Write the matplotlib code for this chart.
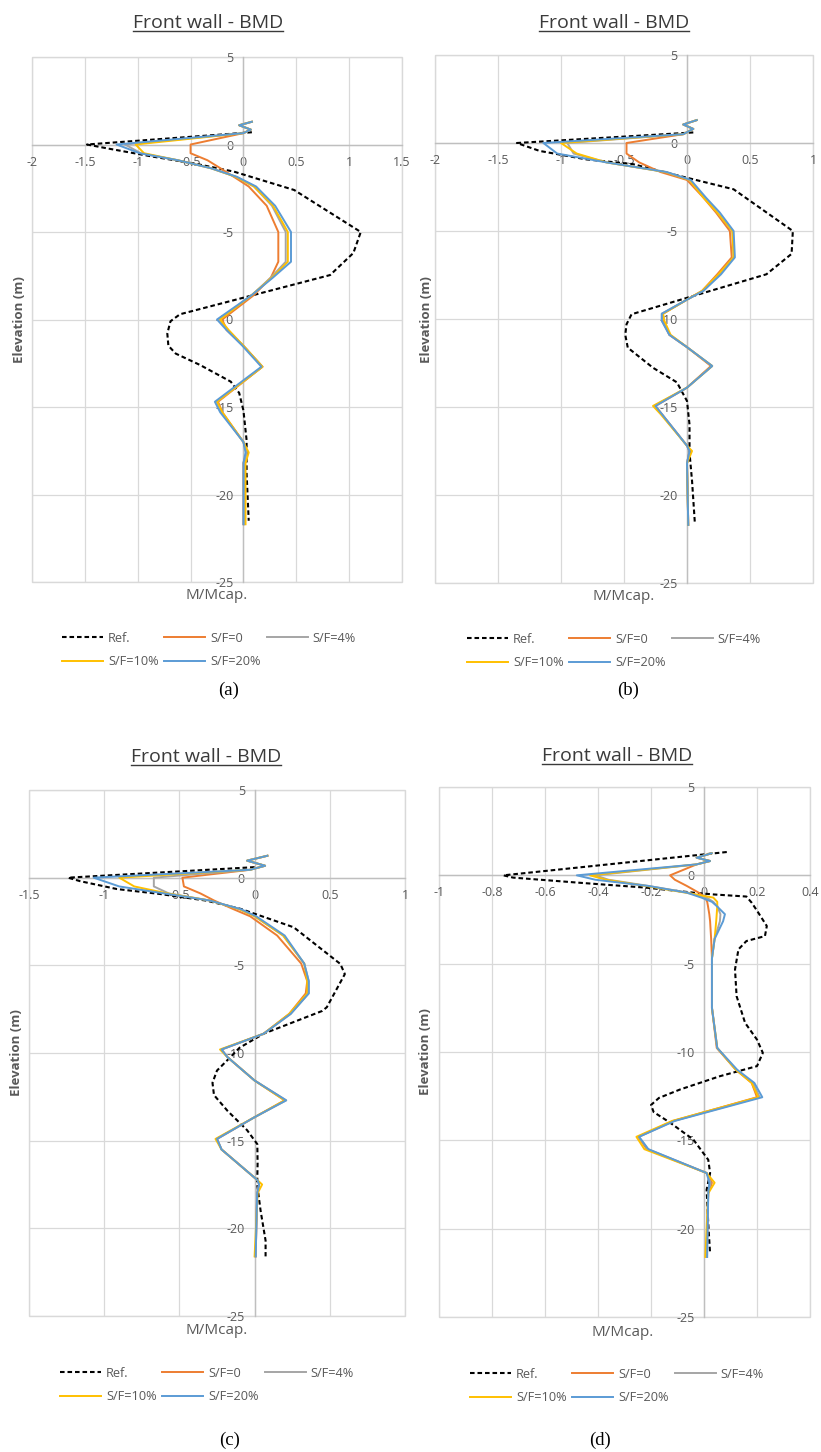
import matplotlib
matplotlib.use('Agg')
import matplotlib.pyplot as plt
from matplotlib.lines import Line2D

plt.rcParams['font.family'] = ['Open Sans', 'DejaVu Sans']
plt.rcParams['axes.unicode_minus'] = False

W, H = 821, 1452

# ---- panel (a) ----
elev_a = [1.3, 1.1, 0.85, 0.65, 0.0, -0.5, -0.9, -1.35, -1.85, -2.4, -3.5, -5.0, -6.7, -7.6, -8.6,
          -10.0, -10.6, -11.5, -12.7, -14.7, -15.3, -17.0, -17.6, -18.2, -21.7]
sf0_a = [0.08, -0.04, 0.07, 0.0, -0.5, -0.5, -0.34, -0.22, -0.09, 0.05, 0.22, 0.33, 0.33, 0.26, 0.1,
         -0.2, -0.16, 0.0, 0.18, -0.24, -0.2, 0.0, 0.03, 0.0, 0.0]
sf4_a = [0.08, -0.04, 0.07, 0.0, -1.12, -0.97, -0.62, -0.31, -0.07, 0.1, 0.27, 0.40, 0.40, 0.26, 0.08,
         -0.23, -0.15, 0.0, 0.18, -0.25, -0.21, 0.0, 0.03, 0.01, 0.01]
sf10_a = [0.08, -0.04, 0.07, 0.0, -1.02, -0.94, -0.62, -0.31, -0.07, 0.1, 0.28, 0.42, 0.42, 0.27, 0.08,
          -0.22, -0.14, 0.0, 0.18, -0.25, -0.2, 0.0, 0.05, 0.02, 0.02]
sf20_a = [0.08, -0.04, 0.07, 0.0, -1.2, -0.98, -0.62, -0.31, -0.06, 0.12, 0.3, 0.45, 0.45, 0.28, 0.08,
          -0.25, -0.16, -0.01, 0.17, -0.27, -0.22, 0.0, 0.02, 0.0, 0.0]
ref_m_a = [0.08, -1.48, -1.29, -0.85, -0.47, -0.09, 0.48, 1.11, 1.04, 0.82, -0.6, -0.69, -0.72, -0.71,
           -0.64, -0.41, -0.12, -0.04, 0.0, 0.03, 0.03, 0.05]
ref_elev_a = [0.7, 0.0, -0.22, -0.7, -1.08, -1.55, -2.6, -5.0, -6.2, -7.46, -9.7, -10.1, -10.8, -11.5,
              -11.95, -12.6, -13.55, -14.2, -15.2, -16.9, -18.8, -21.5]

# ---- panel (b) ----
elev_b = [1.3, 1.05, 0.8, 0.5, 0.0, -0.6, -1.1, -1.65, -2.1, -3.1, -3.95, -5.0, -6.5, -7.46, -8.4,
          -8.9, -9.7, -10.1, -10.9, -11.6, -12.67, -13.9, -14.94, -15.4, -17.2, -17.5, -18.2, -21.7]
sf0_b = [0.077, -0.03, 0.05, -0.03, -0.48, -0.48, -0.38, -0.21, 0.0, 0.13, 0.23, 0.34, 0.355, 0.24, 0.12,
         0.0, -0.19, -0.19, -0.14, 0.0, 0.19, 0.0, -0.25, -0.2, 0.0, 0.02, 0.0, 0.01]
sf4_b = [0.077, -0.03, 0.05, -0.03, -0.95, -0.9, -0.64, -0.17, 0.02, 0.14, 0.24, 0.36, 0.37, 0.26, 0.13,
         0.0, -0.2, -0.2, -0.14, 0.0, 0.2, 0.0, -0.26, -0.2, 0.0, 0.02, 0.0, 0.01]
sf10_b = [0.077, -0.03, 0.05, -0.03, -1.0, -0.875, -0.64, -0.17, 0.02, 0.13, 0.24, 0.36, 0.37, 0.25, 0.12,
          0.0, -0.19, -0.18, -0.13, 0.0, 0.2, 0.0, -0.27, -0.21, 0.0, 0.04, 0.0, 0.01]
sf20_b = [0.077, -0.03, 0.05, -0.03, -1.14, -1.03, -0.64, -0.16, 0.03, 0.15, 0.26, 0.37, 0.38, 0.27, 0.13,
          0.0, -0.2, -0.2, -0.14, 0.0, 0.2, 0.0, -0.25, -0.2, 0.0, 0.02, 0.0, 0.01]
ref_m_b = [0.05, -1.35, -1.17, -0.8, -0.43, -0.11, 0.37, 0.84, 0.83, 0.63, -0.44, -0.48, -0.49, -0.47,
           -0.27, -0.08, 0.0, 0.02, 0.02, 0.04, 0.063]
ref_elev_b = [0.6, 0.0, -0.45, -0.93, -1.2, -1.78, -2.63, -5.0, -6.3, -7.46, -9.73, -10.3, -10.9, -11.63,
              -12.77, -13.6, -14.66, -16.0, -17.6, -19.2, -21.67]

# ---- panel (c) ----
elev_c = [1.25, 0.97, 0.68, 0.45, 0.0, -0.5, -0.9, -1.3, -1.8, -2.2, -3.3, -4.9, -5.9, -6.6, -7.77,
          -8.9, -9.8, -10.24, -11.57, -12.7, -13.66, -14.9, -15.5, -17.26, -17.5, -18.0, -21.6]
sf0_c = [0.085, -0.05, 0.07, -0.03, -0.48, -0.47, -0.36, -0.27, -0.14, -0.03, 0.15, 0.31, 0.35, 0.34, 0.23,
         0.06, -0.22, -0.18, 0.0, 0.2, 0.0, -0.25, -0.22, 0.02, 0.03, 0.017, 0.007]
sf4_c = [0.085, -0.05, 0.07, -0.03, -0.67, -0.67, -0.57, -0.3, -0.1, 0.0, 0.19, 0.33, 0.36, 0.36, 0.24,
         0.06, -0.22, -0.18, 0.0, 0.21, 0.0, -0.25, -0.22, 0.02, 0.03, 0.017, 0.007]
sf10_c = [0.085, -0.05, 0.07, -0.03, -0.9, -0.8, -0.58, -0.3, -0.1, 0.0, 0.19, 0.33, 0.35, 0.35, 0.23,
          0.06, -0.23, -0.18, 0.0, 0.2, 0.0, -0.26, -0.22, 0.02, 0.05, 0.02, 0.0]
sf20_c = [0.085, -0.05, 0.07, -0.03, -1.07, -0.9, -0.6, -0.3, -0.09, 0.01, 0.2, 0.33, 0.36, 0.36, 0.24,
          0.06, -0.22, -0.18, 0.0, 0.21, 0.0, -0.25, -0.22, 0.02, 0.03, 0.017, 0.007]
ref_m_c = [0.0, -1.24, -1.16, -0.915, -0.63, -0.32, -0.093, 0.26, 0.57, 0.6, 0.48, 0.45, 0.06, -0.1,
           -0.18, -0.25, -0.28, -0.27, -0.18, -0.05, 0.018, 0.02, 0.017, 0.04, 0.073, 0.073]
ref_elev_c = [0.6, 0.0, -0.2, -0.65, -0.93, -1.31, -1.78, -2.83, -4.92, -5.5, -7.39, -7.6, -8.9, -9.7,
              -10.4, -11.0, -11.7, -12.4, -13.3, -14.4, -15.2, -16.3, -17.5, -19.0, -20.7, -21.6]

# ---- panel (d) ----
elev_d = [1.25, 1.0, 0.81, 0.62, 0.0, -0.25, -0.6, -0.98, -1.26, -1.5, -1.74, -2.2, -2.6, -3.6, -4.7,
          -7.5, -9.77, -11.0, -11.75, -12.56, -13.9, -14.8, -15.5, -16.85, -17.4, -18.0, -21.6]
sf0_d = [0.029, -0.028, 0.023, -0.028, -0.128, -0.11, -0.065, -0.02, 0.005, 0.012, 0.015, 0.02, 0.023,
         0.027, 0.03, 0.03, 0.048, 0.12, 0.18, 0.2, -0.116, -0.248, -0.216, 0.01, 0.03, 0.016, 0.01]
sf4_d = [0.029, -0.028, 0.023, -0.028, -0.41, -0.36, -0.21, -0.06, 0.01, 0.035, 0.05, 0.062, 0.06,
         0.04, 0.03, 0.03, 0.05, 0.12, 0.185, 0.21, -0.113, -0.246, -0.212, 0.01, 0.025, 0.016, 0.01]
sf10_d = [0.029, -0.028, 0.023, -0.028, -0.43, -0.37, -0.22, -0.07, 0.035, 0.05, 0.05, 0.048, 0.046,
          0.04, 0.03, 0.03, 0.05, 0.12, 0.18, 0.205, -0.12, -0.255, -0.225, 0.01, 0.04, 0.016, 0.005]
sf20_d = [0.029, -0.028, 0.023, -0.028, -0.48, -0.41, -0.21, -0.065, -0.01, 0.03, 0.048, 0.079, 0.072,
          0.04, 0.03, 0.03, 0.05, 0.125, 0.19, 0.22, -0.11, -0.245, -0.21, 0.01, 0.02, 0.016, 0.012]
ref_m_d = [0.086, -0.757, -0.72, -0.47, -0.216, -0.04, 0.035, 0.16, 0.18, 0.2, 0.237, 0.23, 0.16, 0.13,
           0.117, 0.123, 0.155, 0.2, 0.222, 0.2, 0.06, -0.09, -0.17, -0.2, -0.19, -0.128, -0.04, 0.016,
           0.023, 0.01, 0.016, 0.023]
ref_elev_d = [1.32, 0.0, -0.13, -0.42, -0.7, -0.98, -1.08, -1.2, -1.55, -2.0, -2.87, -3.44, -3.72, -4.19,
              -5.33, -6.84, -8.35, -9.3, -10.05, -10.8, -11.37, -12.12, -12.6, -13.0, -13.4, -14.0, -14.96,
              -16.1, -16.85, -17.8, -19.7, -21.4]

xticks_a = [-2, -1.5, -1, -0.5, 0, 0.5, 1, 1.5]
xticks_b = [-2, -1.5, -1, -0.5, 0, 0.5, 1]
xticks_c = [-1.5, -1, -0.5, 0, 0.5, 1]
xticks_d = [-1, -0.8, -0.6, -0.4, -0.2, 0, 0.2, 0.4]
yticks = [5, 0, -5, -10, -15, -20, -25]

labels = ['Ref.', 'S/F=0', 'S/F=4%', 'S/F=10%', 'S/F=20%']
colors = ['black', '#ED7D31', '#A5A5A5', '#FFC000', '#5B9BD5']

TXT = '#595959'
GRID = '#d9d9d9'

# pixel layout: axes box (left, top, right, bottom), title, ylabel, xlabel, legend anchor, caption
panels = [
    dict(box=(32, 57, 402, 582), title=(208, 23), ylab=(20, 320), xlab=(217, 595),
         leg=(62, 650), cap=(229, 690), name='(a)', xt=xticks_a,
         data=(ref_m_a, ref_elev_a, elev_a, sf0_a, sf4_a, sf10_a, sf20_a)),
    dict(box=(435, 55, 813, 583), title=(614, 23), ylab=(426, 320), xlab=(624, 597),
         leg=(467, 651), cap=(628, 690), name='(b)', xt=xticks_b,
         data=(ref_m_b, ref_elev_b, elev_b, sf0_b, sf4_b, sf10_b, sf20_b)),
    dict(box=(29, 790, 405, 1316), title=(206, 757), ylab=(17, 1053), xlab=(217, 1330),
         leg=(60, 1385), cap=(230, 1440), name='(c)', xt=xticks_c,
         data=(ref_m_c, ref_elev_c, elev_c, sf0_c, sf4_c, sf10_c, sf20_c)),
    dict(box=(439, 787, 810, 1317), title=(617, 756), ylab=(425, 1052), xlab=(623, 1332),
         leg=(470, 1386), cap=(600, 1440), name='(d)', xt=xticks_d,
         data=(ref_m_d, ref_elev_d, elev_d, sf0_d, sf4_d, sf10_d, sf20_d)),
]


def fx(px):
    return px / W


def fy(py):
    return 1 - py / H


fig = plt.figure(figsize=(W / 100, H / 100), dpi=100)
titles = []

for p in panels:
    l, t, r, b = p['box']
    ax = fig.add_axes([fx(l), fy(b), (r - l) / W, (b - t) / H])
    ref_m, ref_elev, elev, sf0, sf4, sf10, sf20 = p['data']

    h = []
    h += ax.plot(ref_m, ref_elev, color=colors[0], lw=1.5, ls=(0, (2.2, 1.4)), zorder=3)
    for xs, c in zip([sf0, sf4, sf10, sf20], colors[1:]):
        h += ax.plot(xs, elev, color=c, lw=1.4, zorder=3)

    ax.set_xlim(p['xt'][0], p['xt'][-1])
    ax.set_ylim(-25, 5)
    ax.set_xticks(p['xt'])
    ax.set_xticklabels(['%g' % v for v in p['xt']])
    ax.set_yticks(yticks)
    ax.set_yticklabels(['%g' % v for v in yticks])
    ax.grid(True, color=GRID, lw=0.9)
    ax.set_axisbelow(True)
    ax.spines['left'].set_position(('data', 0))
    ax.spines['bottom'].set_position(('data', 0))
    for s in ['left', 'bottom']:
        ax.spines[s].set_color('#bfbfbf')
        ax.spines[s].set_linewidth(1.0)
    for s in ['top', 'right']:
        ax.spines[s].set_visible(False)
    ax.patch.set_edgecolor(GRID)
    ax.patch.set_linewidth(1.0)
    ax.tick_params(axis='both', length=0, labelsize=9, labelcolor=TXT)
    ax.tick_params(axis='x', pad=8)
    ax.tick_params(axis='y', pad=7)

    tt = fig.text(fx(p['title'][0]), fy(p['title'][1]), 'Front wall - BMD', ha='center', va='center',
                  fontsize=14, color='#3a3a3a')
    titles.append(tt)
    fig.text(fx(p['ylab'][0]), fy(p['ylab'][1]), 'Elevation (m)', rotation=90, ha='center', va='center',
             fontsize=9.5, fontweight='bold', color=TXT)
    fig.text(fx(p['xlab'][0]), fy(p['xlab'][1]), 'M/Mcap.', ha='center', va='center',
             fontsize=11, color=TXT)
    fig.text(fx(p['cap'][0]), fy(p['cap'][1]), p['name'], ha='center', va='center',
             fontsize=13.5, family='Liberation Serif', color='black')

    order = [0, 3, 1, 4, 2]
    leg = fig.legend([h[i] for i in order], [labels[i] for i in order], ncol=3,
                     loc='center left', bbox_to_anchor=(fx(p['leg'][0]), fy(p['leg'][1])),
                     bbox_transform=fig.transFigure, frameon=False, fontsize=9.2,
                     handlelength=3.2, handletextpad=0.4, columnspacing=0.45,
                     labelspacing=0.85, borderpad=0, borderaxespad=0)
    for txt in leg.get_texts():
        txt.set_color(TXT)

# underline the titles
renderer = fig.canvas.get_renderer()
for tt in titles:
    bb = tt.get_window_extent(renderer).transformed(fig.transFigure.inverted())
    y = bb.y0 + 1.0 / H
    fig.add_artist(Line2D([bb.x0, bb.x1], [y, y], transform=fig.transFigure, color='#3a3a3a', lw=1.0))

fig.savefig('out.png', dpi=100)
